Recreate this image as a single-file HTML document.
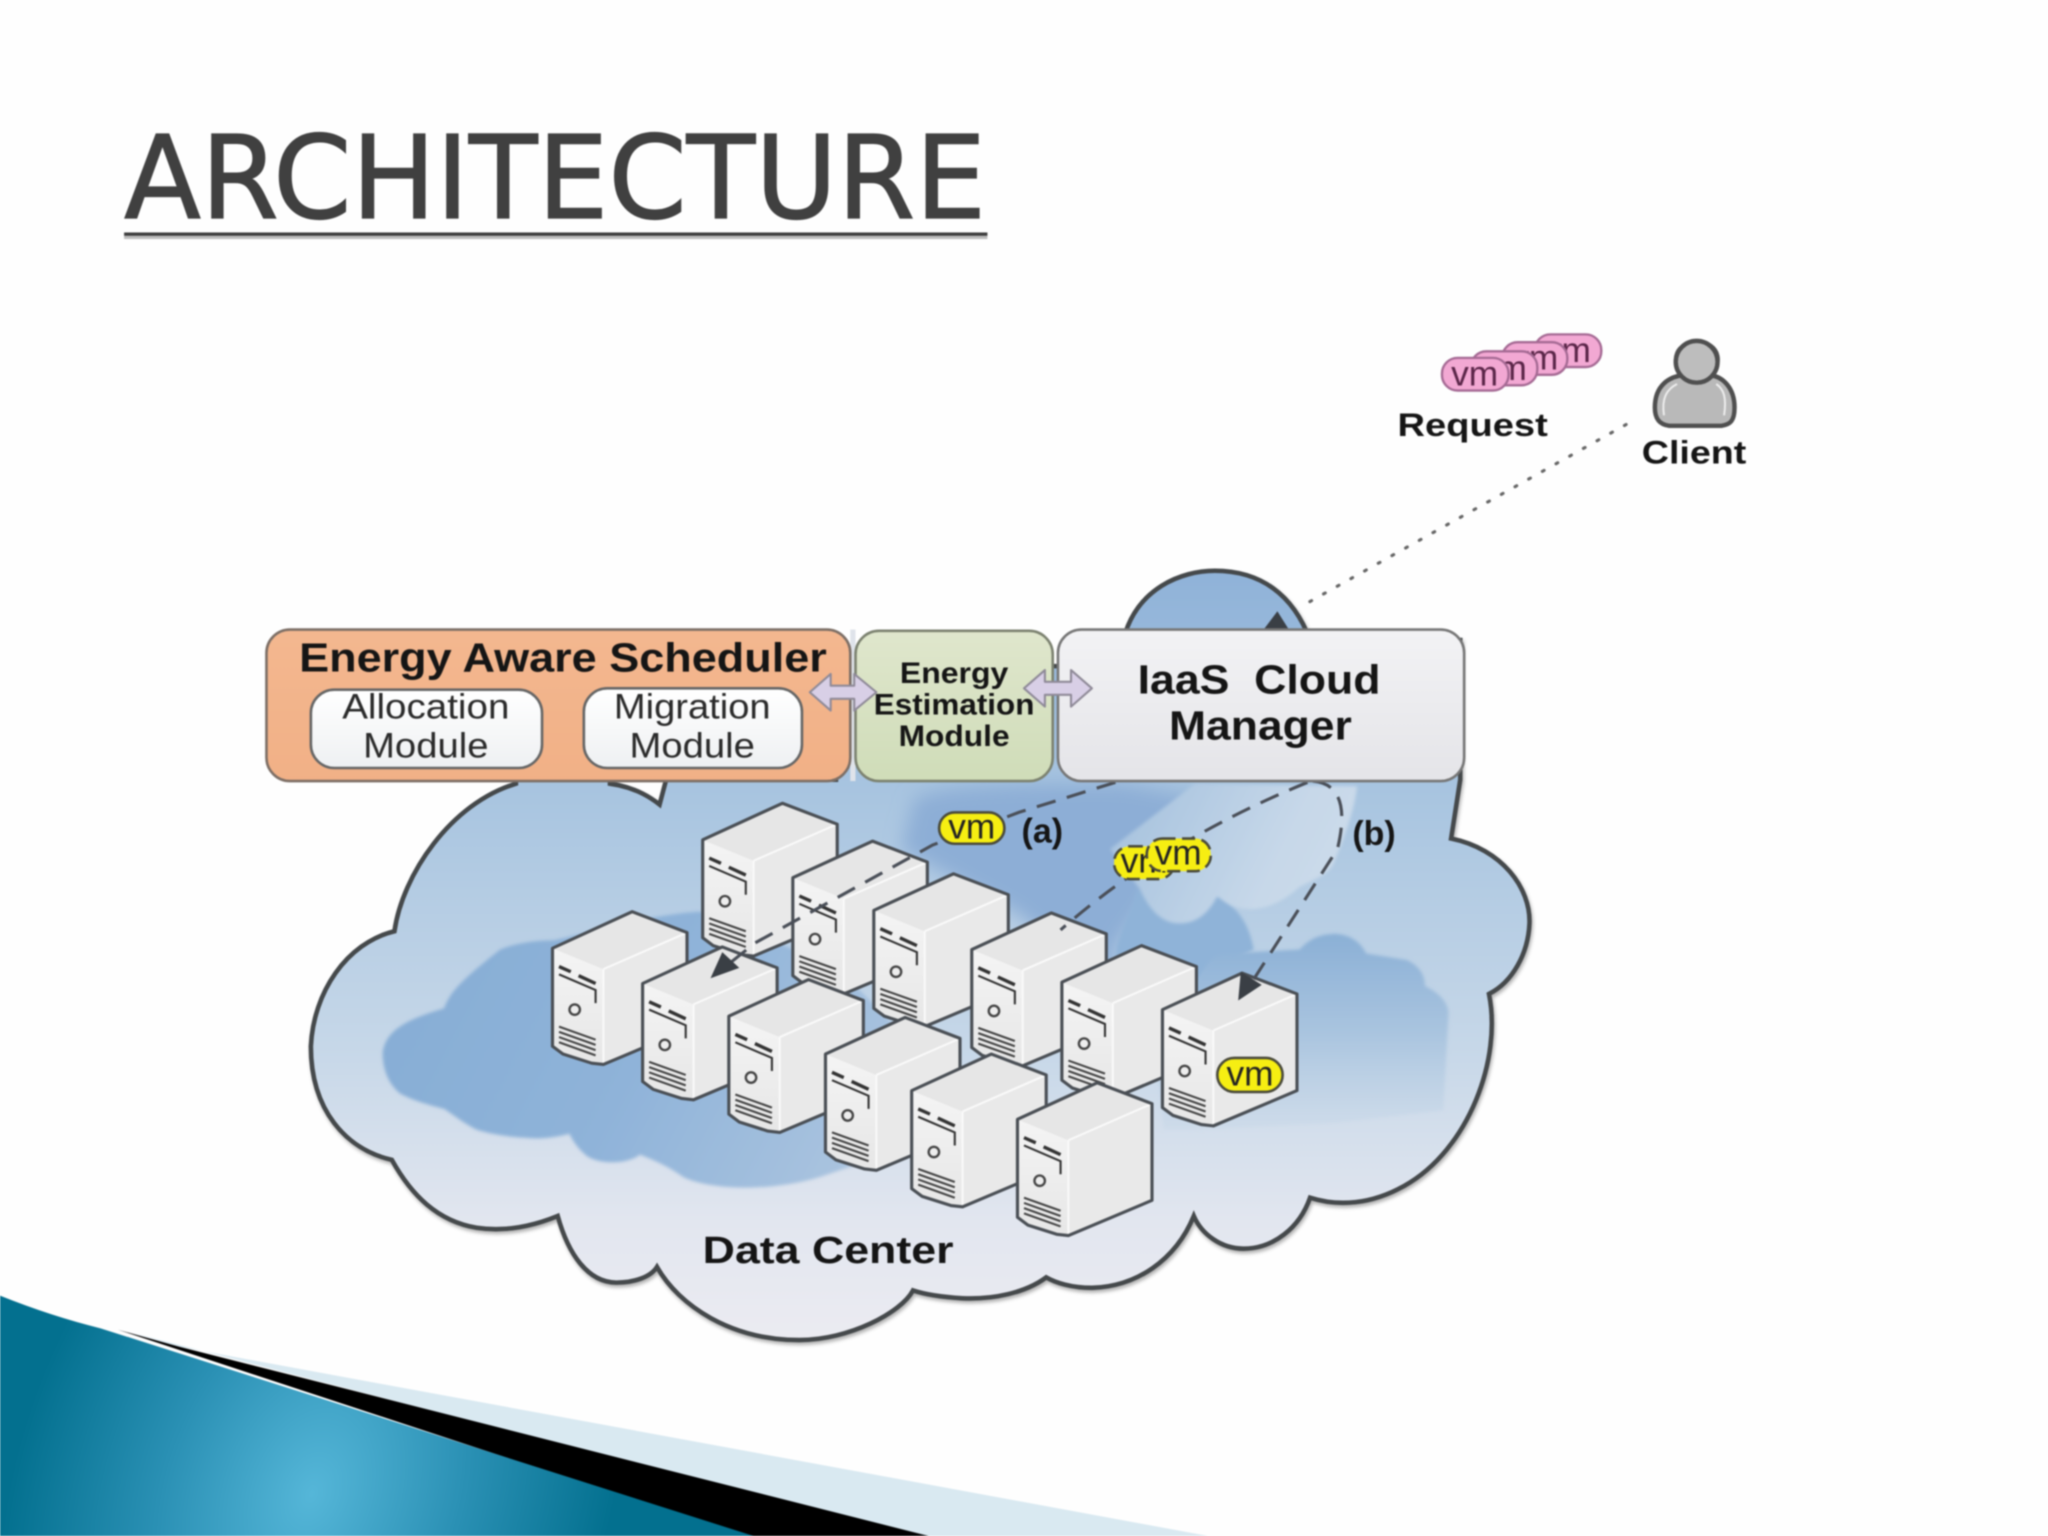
<!DOCTYPE html>
<html><head><meta charset="utf-8"><title>Architecture</title>
<style>
html,body{margin:0;padding:0;background:#fff;width:2048px;height:1536px;overflow:hidden}
svg{display:block;filter:blur(0.8px)}
text{font-family:"Liberation Sans",sans-serif}
.b{font-weight:bold;fill:#151515}
.m{text-anchor:middle}
</style></head><body>
<svg width="2048" height="1536" viewBox="0 0 1568 1176" xmlns="http://www.w3.org/2000/svg">
<defs>
<linearGradient id="cl" gradientUnits="userSpaceOnUse" x1="0" y1="437" x2="0" y2="1026">
<stop offset="0" stop-color="#8fb2d8"/><stop offset=".3" stop-color="#a9c5e0"/><stop offset=".62" stop-color="#c6d7e8"/><stop offset=".85" stop-color="#e2e6ef"/><stop offset="1" stop-color="#ebebf1"/>
</linearGradient>
<linearGradient id="or" x1="0" y1="0" x2="0" y2="1"><stop offset="0" stop-color="#f3b78f"/><stop offset="1" stop-color="#f1b086"/></linearGradient>
<linearGradient id="gr" x1="0" y1="0" x2="0" y2="1"><stop offset="0" stop-color="#dfe6cc"/><stop offset="1" stop-color="#cfdcb8"/></linearGradient>
<linearGradient id="gy" x1="0" y1="0" x2="0" y2="1"><stop offset="0" stop-color="#f2f2f4"/><stop offset="1" stop-color="#e4e4e8"/></linearGradient>
<linearGradient id="wh" x1="0" y1="0" x2="0" y2="1"><stop offset="0" stop-color="#ffffff"/><stop offset="1" stop-color="#eef0f2"/></linearGradient>
<radialGradient id="te" gradientUnits="userSpaceOnUse" cx="240" cy="1140" r="300" gradientTransform="rotate(20 240 1140) scale(.75 1.1) translate(80 -100)">
<stop offset="0" stop-color="#55b6d8"/><stop offset=".5" stop-color="#2a90b4"/><stop offset="1" stop-color="#03708f"/>
</radialGradient>
<linearGradient id="sl" x1="0" y1="0" x2="0" y2="1"><stop offset="0" stop-color="#f4f4f4"/><stop offset="1" stop-color="#e6e6e6"/></linearGradient>
<linearGradient id="dl" gradientUnits="userSpaceOnUse" x1="290" y1="720" x2="640" y2="905">
<stop offset="0" stop-color="#86add5"/><stop offset=".55" stop-color="#8fb3d9"/><stop offset="1" stop-color="#a9c3df"/>
</linearGradient>
<linearGradient id="dr" gradientUnits="userSpaceOnUse" x1="0" y1="715" x2="0" y2="865">
<stop offset="0" stop-color="#8bb0d6"/><stop offset=".5" stop-color="#a9c4df"/><stop offset="1" stop-color="#c2d4e6" stop-opacity="0.3"/>
</linearGradient>
<linearGradient id="lt" gradientUnits="userSpaceOnUse" x1="850" y1="600" x2="1030" y2="690">
<stop offset="0" stop-color="#a3c0dd"/><stop offset=".7" stop-color="#c7d8e9"/><stop offset="1" stop-color="#ccdbea"/>
</linearGradient>
<filter id="sh" x="-5%" y="-5%" width="110%" height="110%"><feDropShadow dx="1" dy="2" stdDeviation="1.5" flood-color="#000" flood-opacity=".3"/></filter>
<filter id="sf" x="-10%" y="-10%" width="120%" height="120%"><feGaussianBlur stdDeviation="1.2"/></filter>
<filter id="sf2" x="-20%" y="-20%" width="140%" height="140%"><feGaussianBlur stdDeviation="7"/></filter>
<clipPath id="cc"><path d="M238,801 C240,760 265,722 302,713 C308,670 345,615 395,600 L467,600 C482,602 495,608 505,616 L510,597 L1118,597 L1111,642 C1150,650 1172,680 1171,707 C1170,730 1158,752 1140,761 C1150,810 1125,880 1075,908 C1050,922 1025,924 1003,917 L914,931 L427,931 L300,888 Z"/></clipPath>
<g id="srv">
<path d="M0,0 L61,-28 L103,-12 L103,62 L39,89 L30,88 L8,81 L0,75 Z" fill="#e9e9e9"/>
<path d="M0,0 L39,16 L39,89 L30,88 L8,81 L0,75 Z" fill="url(#sl)"/>
<path d="M0,0 L61,-28 L103,-12 L39,16 Z" fill="#e6e6e6"/>
<path d="M39,16 L103,-12" stroke="#fafafa" stroke-width="1.5" fill="none"/>
<path d="M39,16 L39,89" stroke="#fafafa" stroke-width="1.5" fill="none"/>
<path d="M0,0 L61,-28 L103,-12 L103,62 L39,89 L30,88 L8,81 L0,75 Z" fill="none" stroke="#4a4f55" stroke-width="2.4" stroke-linejoin="round"/>
<path d="M5,14 L14,18 M20,21 L33,27" stroke="#333" stroke-width="2.6" fill="none"/>
<path d="M5,20 L33,32 L33,42" stroke="#333" stroke-width="1.6" fill="none"/>
<circle cx="17" cy="47" r="4" fill="#eee" stroke="#444" stroke-width="1.8"/>
<path d="M5,60 L33,70 M5,64 L33,74 M5,68 L33,78 M5,72 L33,82" stroke="#444" stroke-width="1.6" fill="none"/>
</g>
</defs>

<rect width="1568" height="1176" fill="#fefefe"/>

<!-- Title -->
<text x="95" y="167" font-size="88" textLength="660" lengthAdjust="spacingAndGlyphs" style="font-family:'DejaVu Sans',sans-serif" fill="#404040" stroke="#404040" stroke-width="1">ARCHITECTURE</text>
<rect x="95" y="178" width="661" height="2.6" fill="#3c3c3c"/>
<rect x="95" y="180.6" width="661" height="2.4" fill="#bcbcbc"/>

<!-- Bottom-left decoration -->
<polygon points="100,1020 137,1031 925,1176 700,1176" fill="#d9e9f1"/>
<polygon points="90,1018 137,1031 711,1176 570,1176" fill="#000"/>
<path d="M0,992 Q40,1008 77,1017 L577,1176 L0,1176 Z" fill="url(#te)"/>

<!-- Cloud -->
<path d="M238,801 C240,760 265,722 302,713 C308,670 345,615 395,600 L395,590 L467,590 L467,600 C482,602 495,608 505,616 L510,597 L640,597 L640,510 L810,510 L860,490 C870,450 905,437 930,437 C965,437 990,455 1003,490 L1118,490 L1118,597 L1111,642 C1150,650 1172,680 1171,707 C1170,730 1158,752 1140,761 C1150,810 1125,880 1075,908 C1050,922 1025,924 1003,917 C995,940 975,956 952,956 C935,956 920,945 914,931 C900,965 870,985 836,986 C820,986 808,982 801,978 C785,990 760,995 737,994 C720,993 708,991 699,988 C690,1005 650,1026 612,1026 C560,1026 520,1000 503,970 C498,978 485,982 472,982 C450,982 435,960 427,931 C405,940 385,943 365,940 C335,935 315,915 300,888 C265,880 238,850 238,801 Z" fill="url(#cl)" stroke="#45484c" stroke-width="3.5" filter="url(#sh)"/>
<rect x="651" y="482" width="4" height="116" fill="#dfe3ea"/>

<!-- inner cloud patches -->
<path d="M293,806 C295,792 305,782 340,772 C345,760 350,753 383,727 C395,722 410,720 424,720 C460,712 500,700 536,698 L640,740 L700,800 L690,880 L628,901 C605,908 580,910 561,909 C545,908 530,905 523,901 C510,892 500,888 490,884 C480,892 455,892 447,883 C440,877 436,868 436,868 C420,872 410,872 401,871 C385,870 375,868 365,865 C355,860 345,852 340,849 C325,845 315,842 306,837 C298,830 293,820 293,806 Z" fill="url(#dl)" filter="url(#sf)"/>
<path d="M700,612 C720,600 780,600 860,600 L915,610 L880,690 L855,725 L850,760 L780,700 L690,650 Z" fill="#8daed6" filter="url(#sf2)"/>
<path d="M855,725 C860,705 868,695 870,681 L934,686 C945,695 955,702 960,727 L923,745 L891,790 L850,770 Z" fill="#8fb3d8" filter="url(#sf)"/>
<path d="M923,740 C928,733 933,730 939,730 L995,727 C1003,718 1012,715 1023,715 C1035,716 1042,722 1046,730 L1077,735 C1088,740 1091,748 1091,755 C1102,760 1109,768 1109,776 L1105,850 L1020,860 L911,865 L891,865 L885,800 Z" fill="url(#dr)" filter="url(#sf)"/>
<path d="M873,681 C880,697 890,707 903,707 C917,707 926,698 932,686 C940,693 948,696 957,696 C972,696 985,688 995,679 C1010,672 1018,668 1021,661 C1030,640 1037,620 1039,602 L915,600 L850,650 Z" fill="url(#lt)" filter="url(#sf)"/>

<!-- Connector arrow hidden at cloud top -->
<polygon points="978,468 966,484 988,484" fill="#3a3f45"/>

<!-- Dotted line -->
<line x1="1245" y1="325" x2="995" y2="465" stroke="#666" stroke-width="2.4" stroke-dasharray="1.5 10.5" stroke-linecap="round"/>

<!-- Servers -->
<use href="#srv" x="538" y="643"/>
<use href="#srv" x="607" y="672"/>
<use href="#srv" x="669" y="697"/>
<use href="#srv" x="744" y="727"/>
<use href="#srv" x="813" y="752"/>
<use href="#srv" x="423" y="726"/>
<use href="#srv" x="492" y="753"/>
<use href="#srv" x="558" y="778"/>
<use href="#srv" x="632" y="807"/>
<use href="#srv" x="698" y="835"/>
<use href="#srv" x="890" y="773"/>
<use href="#srv" x="779" y="857"/>

<!-- Dashed connectors -->
<g fill="none" stroke="#4a4f58" stroke-width="2.4" stroke-dasharray="15 9">
<path d="M854,599 L780,622 L714,647 L578,722 L558,738"/>
<path d="M1001,599 Q950,620 911,643 Q860,670 812,712"/>
<path d="M1005,598 C1030,600 1030,625 1024,650 L961,748 L955,756"/>
</g>
<polygon points="544,749 553,729 566,741" fill="#3a3f45"/>
<polygon points="948,766 950,744 966,754" fill="#3a3f45"/>

<!-- Boxes -->
<rect x="204" y="482" width="447" height="116" rx="18" fill="url(#or)" stroke="#7d6f66" stroke-width="2"/>
<rect x="655" y="483" width="151" height="115" rx="18" fill="url(#gr)" stroke="#7c8270" stroke-width="2"/>
<rect x="810" y="482" width="311" height="116" rx="18" fill="url(#gy)" stroke="#777" stroke-width="2"/>
<rect x="238" y="528" width="177" height="60" rx="18" fill="url(#wh)" stroke="#666" stroke-width="2"/>
<rect x="447" y="527" width="167" height="61" rx="18" fill="url(#wh)" stroke="#666" stroke-width="2"/>

<!-- Box labels -->
<text x="229" y="514" class="b" font-size="31" textLength="404" lengthAdjust="spacingAndGlyphs">Energy Aware Scheduler</text>
<text x="262" y="550" font-size="27" fill="#2a2a2a" textLength="128" lengthAdjust="spacingAndGlyphs">Allocation</text>
<text x="278" y="580" font-size="27" fill="#2a2a2a" textLength="96" lengthAdjust="spacingAndGlyphs">Module</text>
<text x="470" y="550" font-size="27" fill="#2a2a2a" textLength="120" lengthAdjust="spacingAndGlyphs">Migration</text>
<text x="482" y="580" font-size="27" fill="#2a2a2a" textLength="96" lengthAdjust="spacingAndGlyphs">Module</text>
<text x="689" y="523" class="b" font-size="23" textLength="83" lengthAdjust="spacingAndGlyphs">Energy</text>
<text x="669" y="547" class="b" font-size="23" textLength="123" lengthAdjust="spacingAndGlyphs">Estimation</text>
<text x="688" y="571" class="b" font-size="23" textLength="85" lengthAdjust="spacingAndGlyphs">Module</text>
<text x="871" y="531" class="b" font-size="31" textLength="186" lengthAdjust="spacingAndGlyphs" xml:space="preserve">IaaS  Cloud</text>
<text x="895" y="566" class="b" font-size="31" textLength="140" lengthAdjust="spacingAndGlyphs">Manager</text>

<!-- Double arrows -->
<g fill="#d8cfe6" stroke="#8f8a98" stroke-width="1.6" stroke-linejoin="round">
<polygon points="620,530 636,516 636,525 654,525 654,516 671,530 654,544 654,535 636,535 636,544"/>
<polygon points="784,527 800,513 800,522 820,522 820,513 836,527 820,541 820,532 800,532 800,541"/>
</g>

<!-- VM yellow labels -->
<g font-size="27" text-anchor="middle">
<rect x="719" y="622" width="50" height="24" rx="12" fill="#f6ee12" stroke="#4a4a3a" stroke-width="2"/>
<text x="744" y="642" fill="#222">vm</text>
<rect x="853" y="648" width="46" height="25" rx="12" fill="#f6ee12" stroke="#4a4a3a" stroke-width="2" stroke-dasharray="10 5"/>
<text x="876" y="668" fill="#222">vm</text>
<rect x="878" y="642" width="49" height="25" rx="12" fill="#f6ee12" stroke="#4a4a3a" stroke-width="2" stroke-dasharray="10 5"/>
<text x="902" y="662" fill="#222">vm</text>
<rect x="932" y="810" width="50" height="26" rx="13" fill="#f6ee12" stroke="#4a4a3a" stroke-width="2"/>
<text x="957" y="831" fill="#222">vm</text>
</g>
<text x="798" y="645" class="b m" font-size="26" fill="#102030">(a)</text>
<text x="1052" y="647" class="b m" font-size="26" fill="#102030">(b)</text>

<text x="538" y="967" class="b" font-size="29" textLength="192" lengthAdjust="spacingAndGlyphs">Data Center</text>

<!-- Request pink VMs -->
<g font-size="27" text-anchor="middle" fill="#5a2548">
<rect x="1175" y="256" width="51" height="25" rx="12" fill="#f2a8d3" stroke="#a56a94" stroke-width="1.8"/>
<text x="1200" y="277">vm</text>
<rect x="1150" y="262" width="50" height="25" rx="12" fill="#f2a8d3" stroke="#a56a94" stroke-width="1.8"/>
<text x="1175" y="283">vm</text>
<rect x="1126" y="269" width="51" height="26" rx="12" fill="#f2a8d3" stroke="#a56a94" stroke-width="1.8"/>
<text x="1151" y="291">vm</text>
<rect x="1104" y="274" width="51" height="25" rx="12" fill="#f2a8d3" stroke="#a56a94" stroke-width="1.8"/>
<text x="1129" y="295">vm</text>
</g>
<text x="1070" y="334" class="b" font-size="25" textLength="115" lengthAdjust="spacingAndGlyphs">Request</text>

<!-- Client icon -->
<path d="M1267,312 C1267,295 1278,288 1290,287 C1280,280 1280,263 1299,262 C1318,262 1319,281 1308,287 C1320,288 1328,298 1328,312 C1328,322 1325,325 1318,326 L1278,326 C1270,325 1267,320 1267,312 Z" fill="#b9b9b9" stroke="#4f4f4f" stroke-width="3.4" stroke-linejoin="round"/>
<circle cx="1299" cy="277" r="16" fill="#bdbdbd" stroke="#4f4f4f" stroke-width="3.4"/>
<path d="M1274,318 C1272,305 1276,298 1284,294 M1320,318 C1322,305 1320,298 1314,294" fill="none" stroke="#eee" stroke-width="1.5"/>
<text x="1257" y="355" class="b" font-size="25" textLength="80" lengthAdjust="spacingAndGlyphs">Client</text>
</svg>
</body></html>
